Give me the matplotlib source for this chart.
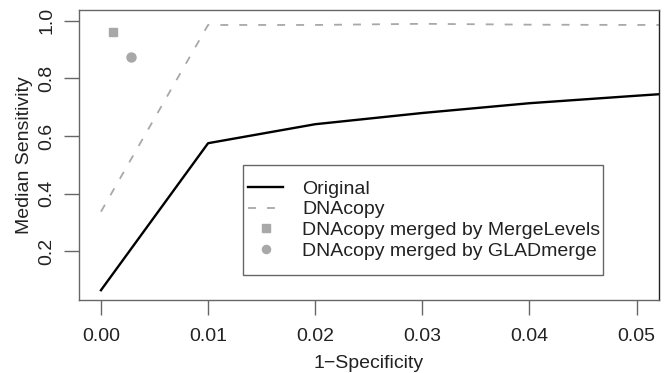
import numpy as np
import matplotlib
matplotlib.use("Agg")
import matplotlib.pyplot as plt
from matplotlib.patches import Rectangle

plt.rcParams['font.family'] = ['Liberation Sans', 'DejaVu Sans']

# ── Data ───────────────────────────────────────────────────────────
fpr = [0.00, 0.01, 0.02, 0.03, 0.04, 0.05, 0.06]
sens_original = [0.064, 0.575, 0.641, 0.680, 0.714, 0.740, 0.765]
sens_dnacopy = [0.337, 0.986, 0.986, 0.990, 0.987, 0.986, 0.986]

mergelevels_x = [0.0011]
mergelevels_y = [0.961]
gladmerge_x = [0.0028]
gladmerge_y = [0.876]

legend_labels = ["Original", "DNAcopy",
                 "DNAcopy merged by MergeLevels", "DNAcopy merged by GLADmerge"]

W, H = 669, 373
fig = plt.figure(figsize=(W / 100, H / 100), dpi=100)
ax = fig.add_axes([79 / W, 1 - 300 / H, 580 / W, 290 / H])

grey = "#a8a8a8"
ax.plot(fpr, sens_original, color="black", lw=1.7, label=legend_labels[0])
ax.plot(fpr, sens_dnacopy, color=grey, lw=1.3, dashes=(4.4, 6.1),
        label=legend_labels[1])
ax.plot(mergelevels_x, mergelevels_y, ls="none", marker="s", ms=6,
        color=grey, label=legend_labels[2])
ax.plot(gladmerge_x, gladmerge_y, ls="none", marker="o", ms=6.5,
        color=grey, label=legend_labels[3])

ax.set_xlim(-0.00205, 0.0521)
ax.set_ylim(0.03, 1.038)
ax.set_xticks([0.00, 0.01, 0.02, 0.03, 0.04, 0.05])
ax.set_xticklabels(["0.00", "0.01", "0.02", "0.03", "0.04", "0.05"])
ax.set_yticks([0.2, 0.4, 0.6, 0.8, 1.0])
ax.set_yticklabels(["0.2", "0.4", "0.6", "0.8", "1.0"], rotation=90,
                   va="center")

edge = "#666666"
for side in ["left", "bottom", "top"]:
    ax.spines[side].set_color(edge)
    ax.spines[side].set_linewidth(1.0)
ax.spines["right"].set_color("#222222")
ax.spines["right"].set_linewidth(1.0)

ax.tick_params(axis="both", direction="out", length=11, width=1.0,
               color=edge, labelsize=14, labelcolor="#222222")
ax.tick_params(axis="x", pad=9.5)
ax.tick_params(axis="y", pad=6)

ax.set_xlabel("1\u2212Specificity", fontsize=14, color="#222222")
ax.set_ylabel("Median Sensitivity", fontsize=14, color="#222222")
ax.xaxis.set_label_coords(0.5, -0.19)
ax.yaxis.set_label_coords(-0.079, 0.5)

# legend entries without frame, the frame drawn as its own box
leg = ax.legend(loc="upper left", bbox_to_anchor=(169 / 580, 120 / 290),
                fontsize=14, frameon=False, handlelength=1.8,
                handletextpad=1.0, labelspacing=0.16, borderpad=0.0,
                borderaxespad=0.0, markerscale=0.9)
for t in leg.get_texts():
    t.set_color("#222222")
ax.add_patch(Rectangle((164 / 580, 25 / 290), 360 / 580, 110 / 290,
                       transform=ax.transAxes, fill=False, edgecolor=edge,
                       linewidth=1.0, zorder=5))

fig.savefig("out.png", dpi=100)
